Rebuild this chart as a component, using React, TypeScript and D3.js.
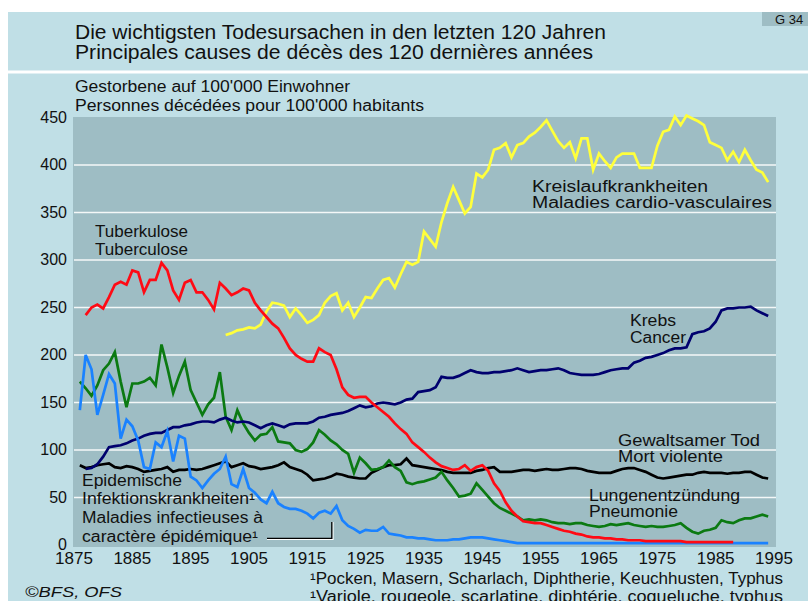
import React from "react";
import * as d3 from "d3";

// ---- Data (deaths per 100'000 inhabitants) ----
const xTicks = [1875, 1885, 1895, 1905, 1915, 1925, 1935, 1945, 1955, 1965, 1975, 1985, 1995];
const yTicks = [0, 50, 100, 150, 200, 250, 300, 350, 400, 450];

const tbStart = 1877;
const tuberculosis = [
  242, 250, 253, 249, 261, 274, 277, 274, 289, 287, // 1877-1886
  266, 279, 279, 297, 289, 268, 258, 276, 279, 266, // 1887-1896
  266, 258, 248, 276, 270, 263, 266, 270, 268, 255, // 1897-1906
  247, 240, 233, 228, 218, 207, 200, 196, 193, 193, // 1907-1916
  207, 203, 200, 185, 166, 158, 155, 156, 156, 150, // 1917-1926
  145, 140, 135, 128, 122, 117, 108, 103, 98, 92,   // 1927-1936
  87, 83, 81, 79, 80, 84, 78, 82, 84, 78,           // 1937-1946
  65, 57, 45, 36, 30, 25, 24, 23, 23, 21,           // 1947-1956
  19, 17, 15, 14, 12, 11, 9, 8, 8, 7,               // 1957-1966
  7, 6, 6, 5, 5, 5, 4, 4, 4, 4,                     // 1967-1976
  4, 4, 4, 3, 3, 3, 3, 3, 3, 3, 3, 3                // 1977-1988
];

const cvStart = 1901;
const cardio = [
  221, 223, 226, 227, 229, 228, 232, 246, 255, 254, // 1901-1910
  252, 240, 249, 242, 234, 237, 242, 255, 262, 265, // 1911-1920
  247, 255, 240, 250, 261, 260, 270, 279, 281, 271, // 1921-1930
  285, 298, 295, 298, 330, 322, 314, 340, 360, 377, // 1931-1940
  363, 349, 356, 391, 387, 395, 416, 418, 423, 408, // 1941-1950
  421, 423, 430, 434, 440, 447, 436, 425, 418, 424, // 1951-1960
  407, 428, 428, 395, 412, 404, 397, 408, 412, 412, // 1961-1970
  412, 397, 397, 397, 420, 435, 437, 451, 442, 452, // 1971-1980
  449, 446, 442, 424, 421, 418, 405, 414, 403, 416, // 1981-1990
  405, 395, 392, 382                                // 1991-1994
];

const caStart = 1877;
const cancer = [
  80, 81, 85, 93, 103, 104, 105, 107, 110, 112,     // 1877-1886
  115, 117, 118, 118, 121, 124, 124, 126, 127, 129, // 1887-1896
  130, 130, 129, 132, 134, 131, 129, 130, 129, 126, // 1897-1906
  123, 126, 128, 126, 124, 127, 128, 128, 128, 130, // 1907-1916
  134, 135, 137, 138, 139, 141, 144, 147, 145, 146, // 1917-1926
  149, 150, 149, 148, 150, 153, 154, 161, 162, 163, // 1927-1936
  166, 177, 176, 176, 178, 181, 184, 182, 181, 181, // 1937-1946
  182, 182, 183, 184, 186, 184, 182, 183, 184, 184, // 1947-1956
  185, 186, 184, 181, 180, 179, 179, 179, 180, 182, // 1957-1966
  184, 185, 186, 186, 192, 194, 197, 198, 200, 202, // 1967-1976
  205, 207, 207, 208, 222, 224, 225, 228, 235, 247, // 1977-1986
  249, 249, 250, 250, 251, 247, 244, 241            // 1987-1994
];

const vdStart = 1876;
const violent = [
  84, 81, 82, 84, 85, 86, 82, 81, 83, 82,  // 1876-1885
  80, 77, 78, 79, 80, 82, 77, 79, 79, 80,  // 1886-1895
  79, 80, 82, 84, 86, 88, 82, 84, 86, 83,  // 1896-1905
  82, 80, 81, 82, 84, 87, 82, 80, 78, 74,  // 1906-1915
  68, 69, 70, 72, 75, 74, 72, 71, 70, 70,  // 1916-1925
  76, 79, 82, 84, 84, 85, 91, 84, 83, 82,  // 1926-1935
  81, 80, 79, 77, 76, 76, 76, 76, 78, 79,  // 1936-1945
  81, 82, 77, 77, 77, 78, 79, 79, 78, 79,  // 1946-1955
  80, 79, 79, 80, 81, 81, 80, 78, 77, 76,  // 1956-1965
  76, 76, 78, 80, 81, 81, 79, 77, 74, 71,  // 1966-1975
  70, 71, 72, 73, 74, 74, 76, 77, 76, 76,  // 1976-1985
  76, 75, 76, 76, 77, 77, 74, 71, 70       // 1986-1994
];

const pnStart = 1876;
const pneumonia = [
  172, 165, 157, 168, 184, 191, 203, 172, 145, 170, // 1876-1885
  170, 172, 176, 168, 211, 187, 160, 178, 193, 163, // 1886-1895
  150, 137, 148, 155, 182, 135, 121, 142, 128, 118, // 1896-1905
  110, 116, 117, 124, 109, 108, 107, 100, 98, 101,  // 1906-1915
  108, 121, 116, 110, 106, 100, 96, 76, 92, 86,     // 1916-1925
  79, 80, 82, 89, 82, 78, 66, 64, 66, 67,           // 1926-1935
  69, 71, 77, 68, 60, 51, 52, 54, 65, 58,           // 1936-1945
  51, 44, 39, 36, 33, 30, 26, 27, 26, 27,           // 1946-1955
  26, 24, 23, 23, 22, 23, 23, 21, 20, 19,           // 1956-1965
  20, 22, 21, 22, 23, 21, 20, 19, 20, 19,           // 1966-1975
  19, 20, 21, 23, 18, 14, 12, 15, 16, 18,           // 1976-1985
  26, 24, 23, 26, 28, 28, 30, 32, 30                // 1986-1994
];

const epStart = 1876;
const epidemic = [
  142, 200, 185, 137, 158, 180, 170, 112, 132, 125, // 1876-1885
  110, 82, 80, 108, 103, 120, 88, 115, 112, 72,     // 1886-1895
  68, 60, 68, 75, 80, 93, 64, 61, 80, 60,           // 1896-1905
  55, 48, 44, 56, 44, 40, 38, 38, 36, 33,           // 1906-1915
  28, 34, 36, 33, 41, 26, 20, 17, 13, 16,           // 1916-1925
  15, 15, 19, 12, 11, 10, 8, 8, 7, 7,               // 1926-1935
  6, 5, 5, 5, 6, 6, 7, 8, 8, 8,                     // 1936-1945
  7, 6, 5, 4, 3, 2, 2, 2, 2, 2,                     // 1946-1955
  2, 2, 2, 2, 2, 2, 2, 2, 2, 2,                     // 1956-1965
  2, 2, 2, 2, 2, 2, 2, 2, 2, 2,                     // 1966-1975
  2, 2, 2, 2, 2, 2, 2, 2, 2, 2,                     // 1976-1985
  2, 2, 2, 2, 2, 2, 2, 2, 2                         // 1986-1994
];

const seriesList = [
  { name: "violent", start: vdStart, values: violent, color: "#000000" },
  { name: "pneumonia", start: pnStart, values: pneumonia, color: "#0b7a12" },
  { name: "cancer", start: caStart, values: cancer, color: "#00006e" },
  { name: "cardio", start: cvStart, values: cardio, color: "#ffff3c" },
  { name: "epidemic", start: epStart, values: epidemic, color: "#1a82ff" },
  { name: "tuberculosis", start: tbStart, values: tuberculosis, color: "#ff0a14" },
];

const FONT = "'Liberation Sans', Arial, Helvetica, sans-serif";

export default function App() {
  const W = 808, H = 601;
  const plotL = 73, plotR = 776, plotT = 117, plotB = 547;
  const x = d3.scaleLinear().domain([1875, 1995]).range([74, 774]);
  const y = d3.scaleLinear().domain([0, 450]).range([545, 117.5]);
  const line = d3
    .line<[number, number]>()
    .x((d) => x(d[0]))
    .y((d) => y(d[1]));

  const outerBg = "#c0dfe6";
  const plotBg = "#9ebdc4";

  return (
    <svg
      width={W}
      height={H}
      style={{ position: "fixed", left: 0, top: 0, background: "#ffffff" }}
      fontFamily={FONT}
    >
      <defs>
        <clipPath id="plotclip">
          <rect x={plotL} y={plotT - 6} width={plotR - plotL} height={plotB - plotT + 6} />
        </clipPath>
      </defs>
      {/* outer panels */}
      <rect x={8} y={12} width={W - 8} height={H - 12} fill={outerBg} />
      <rect x={8} y={70.5} width={W - 8} height={3} fill="#ffffff" />
      {/* G 34 tag */}
      <rect x={762} y={12} width={46} height={14} fill="#9ebdc4" />
      <text x={775} y={24} fontSize={13} fill="#111">G 34</text>

      {/* titles */}
      <text x={75} y={38.5} fontSize={20} fill="#111" textLength={531} lengthAdjust="spacingAndGlyphs">
        Die wichtigsten Todesursachen in den letzten 120 Jahren
      </text>
      <text x={75} y={58.5} fontSize={20} fill="#111" textLength={518} lengthAdjust="spacingAndGlyphs">
        Principales causes de décès des 120 dernières années
      </text>
      <text x={75} y={92} fontSize={16} fill="#111" textLength={275} lengthAdjust="spacingAndGlyphs">
        Gestorbene auf 100'000 Einwohner
      </text>
      <text x={75} y={111} fontSize={16} fill="#111" textLength={349} lengthAdjust="spacingAndGlyphs">
        Personnes décédées pour 100'000 habitants
      </text>

      {/* plot background */}
      <rect x={plotL} y={plotT} width={plotR - plotL} height={plotB - plotT} fill={plotBg} />
      {/* gridlines */}
      {yTicks
        .filter((v) => v > 0 && v < 450)
        .map((v) => (
          <line key={v} x1={74} x2={plotR} y1={y(v)} y2={y(v)} stroke="#f4f8f8" strokeWidth={1.7} />
        ))}
      {/* y tick labels */}
      {yTicks.map((v) => (
        <text key={v} x={67} y={y(v) + 5} fontSize={16} textAnchor="end" fill="#111">
          {v}
        </text>
      ))}
      {/* x tick labels */}
      {xTicks.map((t) => (
        <text key={t} x={x(t)} y={564} fontSize={17} textAnchor="middle" fill="#111">
          {t}
        </text>
      ))}

      {/* series */}
      <g clipPath="url(#plotclip)">
        {seriesList.map((s) => (
          <path
            key={s.name}
            d={line(s.values.map((v, i) => [s.start + i, v] as [number, number])) || ""}
            fill="none"
            stroke={s.color}
            strokeWidth={2.7}
            strokeLinejoin="miter"
          />
        ))}
      </g>

      {/* annotations */}
      <g fontSize={16} fill="#111">
        <text x={95} y={237} textLength={93} lengthAdjust="spacingAndGlyphs">Tuberkulose</text>
        <text x={95} y={255} textLength={93} lengthAdjust="spacingAndGlyphs">Tuberculose</text>
        <text x={532} y={192} textLength={176} lengthAdjust="spacingAndGlyphs">Kreislaufkrankheiten</text>
        <text x={532} y={208} textLength={240} lengthAdjust="spacingAndGlyphs">Maladies cardio-vasculaires</text>
        <text x={630} y={326} textLength={46} lengthAdjust="spacingAndGlyphs">Krebs</text>
        <text x={630} y={343} textLength={56} lengthAdjust="spacingAndGlyphs">Cancer</text>
        <text x={618} y={446} textLength={142} lengthAdjust="spacingAndGlyphs">Gewaltsamer Tod</text>
        <text x={618} y={462} textLength={105} lengthAdjust="spacingAndGlyphs">Mort violente</text>
        <text x={589} y={501} textLength={151} lengthAdjust="spacingAndGlyphs">Lungenentzündung</text>
        <text x={589} y={517} textLength={89} lengthAdjust="spacingAndGlyphs">Pneumonie</text>
        <text x={82} y={486} textLength={100} lengthAdjust="spacingAndGlyphs">Epidemische</text>
        <text x={82} y={503.5} textLength={173} lengthAdjust="spacingAndGlyphs">Infektionskrankheiten¹</text>
        <text x={82} y={523} textLength={181} lengthAdjust="spacingAndGlyphs">Maladies infectieuses à</text>
        <text x={82} y={542} textLength={176} lengthAdjust="spacingAndGlyphs">caractère épidémique¹</text>
      </g>
      {/* leader line */}
      <polyline points="267,539.5 333,539.5 333,522" fill="none" stroke="#ffffff" strokeWidth={1.2} />
      <polyline points="267,538.3 331.8,538.3 331.8,522" fill="none" stroke="#000" strokeWidth={1.3} />

      {/* footnotes */}
      <text x={310} y={584} fontSize={16} fill="#111" textLength={473} lengthAdjust="spacingAndGlyphs">
        ¹Pocken, Masern, Scharlach, Diphtherie, Keuchhusten, Typhus
      </text>
      <text x={310} y={602} fontSize={16} fill="#111" textLength={473} lengthAdjust="spacingAndGlyphs">
        ¹Variole, rougeole, scarlatine, diphtérie, coqueluche, typhus
      </text>
      <text x={25} y={597} fontSize={15} fontStyle="italic" fill="#111" textLength={97} lengthAdjust="spacingAndGlyphs">
        ©BFS, OFS
      </text>
    </svg>
  );
}
